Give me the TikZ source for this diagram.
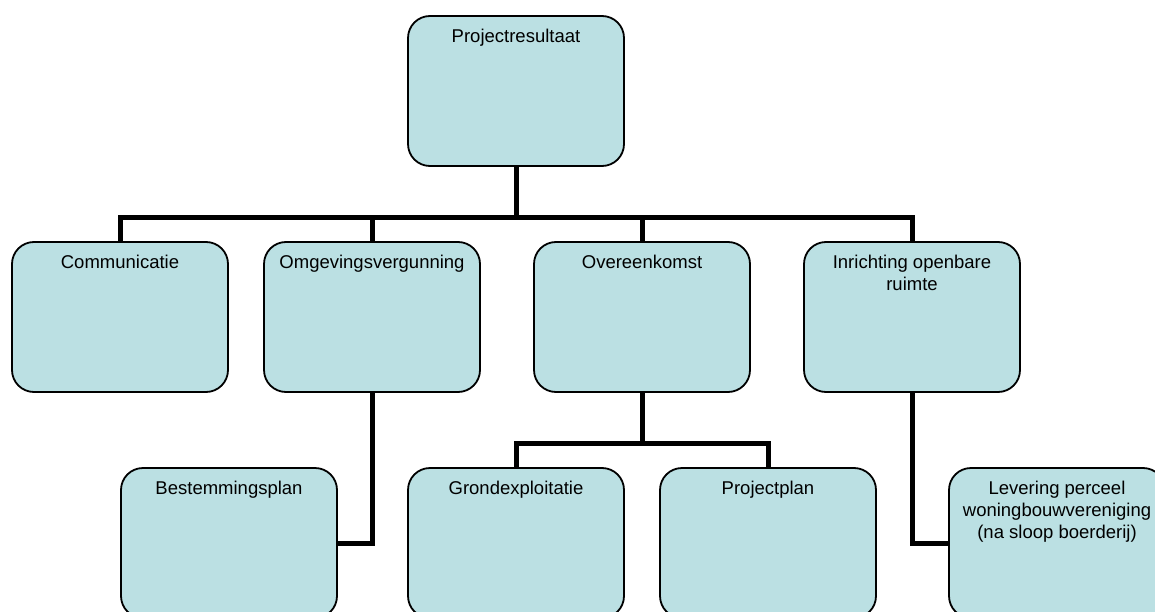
\documentclass[tikz,border=0pt]{standalone}
\usepackage{fontspec}
\setmainfont{Liberation Sans}
\usetikzlibrary{positioning}

\definecolor{boxblue}{RGB}{187,224,227}

\begin{document}
\begin{tikzpicture}[x=1pt, y=-1pt,
  box/.style={draw, rectangle, rounded corners=22pt, line width=1.8pt, fill=boxblue,
    minimum width=216pt, minimum height=150pt, inner sep=0pt},
  boxtext/.style={inner sep=0pt, align=center, font=\fontsize{18.5}{22}\selectfont},
  conn/.style={line width=5pt}]
\useasboundingbox (0,0) rectangle (1155,612);
\clip (0,0) rectangle (1155,612);

% boxes
\node[box] (Projectresultaat) at (516,91) {};
\node[box] (Communicatie) at (120,317) {};
\node[box] (Omgevingsvergunning) at (372,317) {};
\node[box] (Overeenkomst) at (642,317) {};
\node[box] (Inrichting) at (912,317) {};
\node[box] (Bestemmingsplan) at (229,543) {};
\node[box] (Grondexploitatie) at (516,543) {};
\node[box] (Projectplan) at (768,543) {};
\node[box] (Levering) at (1057,543) {};

% texts
\node[boxtext, below=14pt of Projectresultaat.north] (ProjectresultaatText) {Projectresultaat};
\node[boxtext, below=14pt of Communicatie.north] (CommunicatieText) {Communicatie};
\node[boxtext, below=14pt of Omgevingsvergunning.north] (OmgevingsvergunningText) {Omgevingsvergunning};
\node[boxtext, below=14pt of Overeenkomst.north] (OvereenkomstText) {Overeenkomst};
\node[boxtext, below=14pt of Inrichting.north] (InrichtingText) {Inrichting openbare\\ruimte};
\node[boxtext, below=14pt of Bestemmingsplan.north] (BestemmingsplanText) {Bestemmingsplan};
\node[boxtext, below=14pt of Grondexploitatie.north] (GrondexploitatieText) {Grondexploitatie};
\node[boxtext, below=14pt of Projectplan.north] (ProjectplanText) {Projectplan};
\node[boxtext, below=14pt of Levering.north] (LeveringText) {Levering perceel\\woningbouwvereniging\\(na sloop boerderij)};

% connectors
\draw[conn] (Projectresultaat.south) -- ++(0,51) -| (Communicatie.north);
\draw[conn] (Projectresultaat.south) -- ++(0,51) -| (Omgevingsvergunning.north);
\draw[conn] (Projectresultaat.south) -- ++(0,51) -| (Overeenkomst.north);
\draw[conn] (Projectresultaat.south) -- ++(0,51) -| (Inrichting.north);
\draw[conn] (Omgevingsvergunning.south) |- (Bestemmingsplan.east);
\draw[conn] (Overeenkomst.south) -- ++(0,51) -| (Grondexploitatie.north);
\draw[conn] (Overeenkomst.south) -- ++(0,51) -| (Projectplan.north);
\draw[conn] (Inrichting.south) |- (Levering.west);
\end{tikzpicture}
\end{document}
